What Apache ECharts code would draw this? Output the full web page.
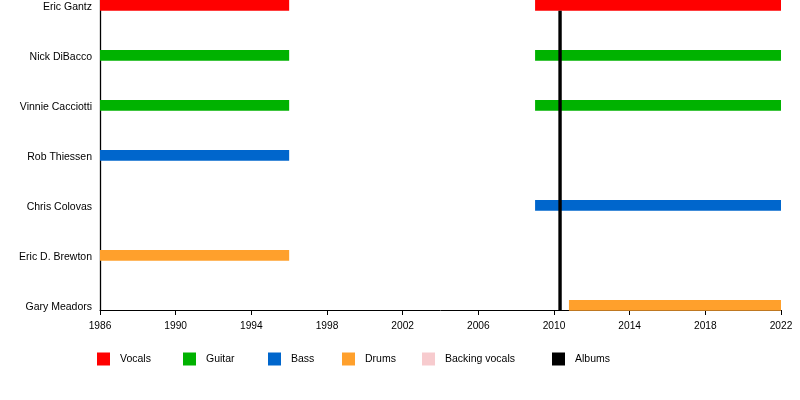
<!DOCTYPE html>
<html>
<head>
<meta charset="utf-8">
<script src="https://cdn.jsdelivr.net/npm/echarts@6/dist/echarts.min.js"></script>
<style>html,body{margin:0;padding:0;background:#fff}#c{width:800px;height:400px}</style>
</head>
<body>
<div id="c"></div>
<script>
var members = ['Eric Gantz','Nick DiBacco','Vinnie Cacciotti','Rob Thiessen','Chris Colovas','Eric D. Brewton','Gary Meadors'];
// [start year, end year, member index]
var vocals = [[1986,1996,0],[2009,2022,0]];
var guitar = [[1986,1996,1],[2009,2022,1],[1986,1996,2],[2009,2022,2]];
var bass = [[1986,1996,3],[2009,2022,4]];
var drums = [[1986,1996,5],[2010.79,2022,6]];
var backingVocals = [];
var albums = [2010.32];
var yearTicks = [1986,2022,4];

var FONT = '"Liberation Sans", Arial, sans-serif';
var chart = echarts.init(document.getElementById('c'), null, {renderer:'canvas'});

function barItem(params, api){
  var s = api.coord([api.value(0), api.value(2)]);
  var e = api.coord([api.value(1), api.value(2)]);
  return {type:'rect', shape:{x:s[0], y:s[1]-5.5, width:e[0]-s[0], height:10.7}, style: api.style()};
}
function roleSeries(name, color, data){
  return {type:'custom', name:name, xAxisIndex:0, yAxisIndex:0, renderItem:barItem,
    itemStyle:{color:color}, encode:{x:[0,1], y:2}, data:data, z:2, silent:true};
}
function legendAt(name, left){
  return {data:[{name:name, icon:'rect'}], left:left, top:352.5, padding:0, itemWidth:13, itemHeight:13,
    selectedMode:false, textStyle:{color:'#000', fontSize:10.5, fontFamily:FONT, padding:[0,0,0,5]}};
}

chart.setOption({
  backgroundColor:'#fff',
  animation:false,
  textStyle:{fontFamily:FONT},
  grid:[
    {left:100, right:19, top:5.5, height:300},
    {left:100, right:19, top:0, height:310},
    {left:100, right:19, top:7.5, height:300}
  ],
  legend:[
    legendAt('Vocals',97), legendAt('Guitar',183), legendAt('Bass',268),
    legendAt('Drums',342), legendAt('Backing vocals',422), legendAt('Albums',552)
  ],
  xAxis:[
    {type:'value', gridIndex:0, min:yearTicks[0], max:yearTicks[1], show:false},
    {type:'value', gridIndex:1, min:yearTicks[0], max:yearTicks[1], interval:yearTicks[2],
     axisLine:{show:true, onZero:false, lineStyle:{color:'#000', width:1}},
     axisTick:{show:true, length:5, lineStyle:{color:'#000'}},
     axisLabel:{color:'#000', fontSize:10.2, fontFamily:FONT, margin:11,
       formatter:function(v){return String(v);}},
     splitLine:{show:false}},
    {type:'value', gridIndex:2, min:yearTicks[0], max:yearTicks[1], show:false}
  ],
  yAxis:[
    {type:'category', gridIndex:0, data:members, inverse:true, boundaryGap:false,
     axisLine:{show:false}, axisTick:{show:false}, splitLine:{show:false}, axisLabel:{show:false}},
    {type:'value', gridIndex:1, min:0, max:1,
     axisLine:{show:true, onZero:false, lineStyle:{color:'#000', width:1.3}},
     axisTick:{show:false}, axisLabel:{show:false}, splitLine:{show:false}},
    {type:'category', gridIndex:2, data:members, inverse:true, boundaryGap:false,
     axisLine:{show:false}, axisTick:{show:false}, splitLine:{show:false},
     axisLabel:{color:'#000', fontSize:10.5, fontFamily:FONT, margin:8}}
  ],
  series:[
    roleSeries('Vocals','#ff0000',vocals),
    roleSeries('Guitar','#00b200',guitar),
    roleSeries('Bass','#0066cc',bass),
    roleSeries('Drums','#ffa02c',drums),
    roleSeries('Backing vocals','#f7cbce',backingVocals),
    {type:'custom', name:'Albums', xAxisIndex:1, yAxisIndex:1, itemStyle:{color:'#000'},
     encode:{x:0}, data:albums.map(function(a){return [a];}), z:5, silent:true,
     renderItem:function(params, api){
       var p = api.coord([api.value(0), 0]);
       var top = params.coordSys.y + 10.7;
       return {type:'line', shape:{x1:p[0], y1:top, x2:p[0], y2:p[1]},
         style:{stroke:'#000', lineWidth:3.4}};
     }}
  ]
});
</script>
</body>
</html>
